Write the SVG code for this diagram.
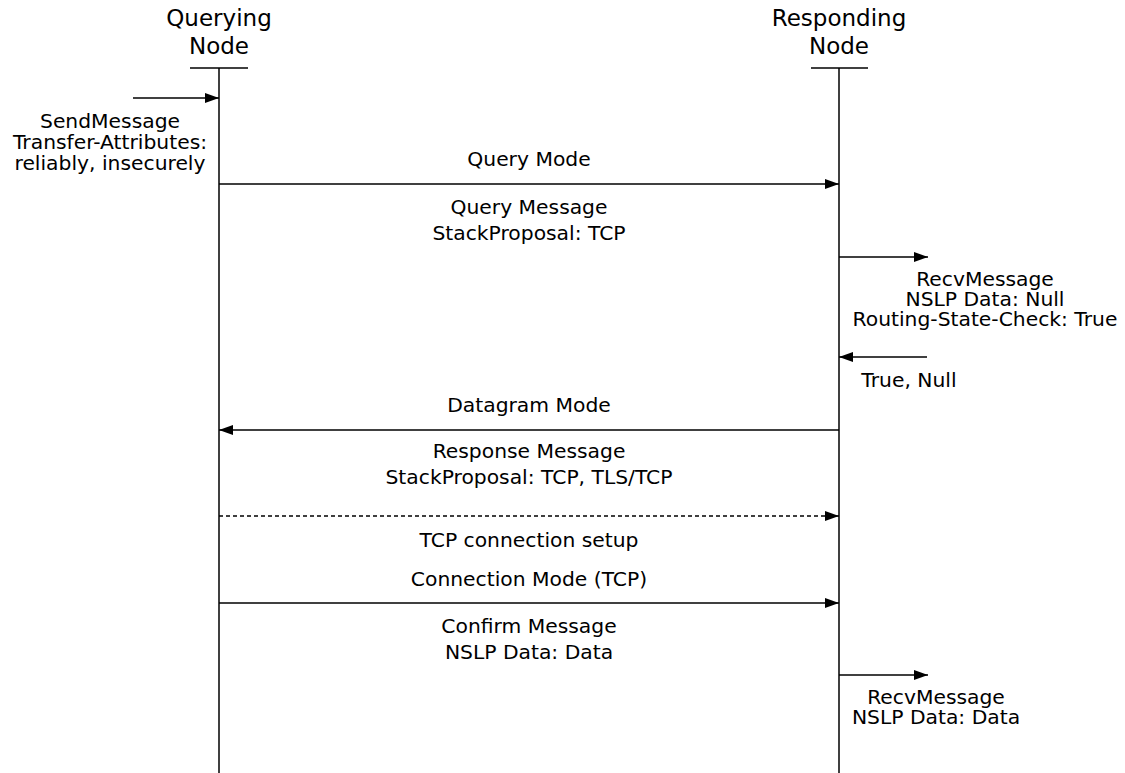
<svg xmlns="http://www.w3.org/2000/svg" width="1125" height="773" viewBox="0 0 1125 773">
<style>
text{font-family:"DejaVu Sans",sans-serif;font-size:20.3px;fill:#000;text-anchor:middle}
.h{font-size:23px}
.l{stroke:#000;stroke-width:1.5;fill:none}
.d{stroke-dasharray:4,3}
</style>
<defs>
<marker id="a" viewBox="0 0 14 10" refX="14" refY="5" markerWidth="14" markerHeight="10" markerUnits="userSpaceOnUse" orient="auto">
<path d="M0,0L14,5L0,10z" fill="#000"/>
</marker>
</defs>
<rect width="1125" height="773" fill="#fff"/>
<g id="querying">
<text class="h" x="219" y="26">Querying</text>
<text class="h" x="219" y="54">Node</text>
<line class="l" x1="190" y1="68" x2="248" y2="68"/>
<line class="l" x1="219" y1="68" x2="219" y2="773"/>
</g>
<g id="responding">
<text class="h" x="839" y="26">Responding</text>
<text class="h" x="839" y="54">Node</text>
<line class="l" x1="811" y1="68" x2="868" y2="68"/>
<line class="l" x1="839" y1="68" x2="839" y2="773"/>
</g>
<g id="connectors">
<line class="l" x1="133" y1="98" x2="219" y2="98" marker-end="url(#a)"/>
<line class="l" x1="219" y1="184" x2="839" y2="184" marker-end="url(#a)"/>
<line class="l" x1="839" y1="257" x2="928" y2="257" marker-end="url(#a)"/>
<line class="l" x1="927" y1="357" x2="839" y2="357" marker-end="url(#a)"/>
<line class="l" x1="839" y1="430" x2="219" y2="430" marker-end="url(#a)"/>
<line class="l d" x1="219" y1="516" x2="839" y2="516" marker-end="url(#a)"/>
<line class="l" x1="219" y1="603" x2="839" y2="603" marker-end="url(#a)"/>
<line class="l" x1="839" y1="675" x2="928" y2="675" marker-end="url(#a)"/>
</g>
<g id="labels">
<text x="110" y="128">SendMessage</text>
<text x="110" y="149">Transfer-Attributes:</text>
<text x="110" y="170">reliably, insecurely</text>
<text x="529" y="166">Query Mode</text>
<text x="529" y="214">Query Message</text>
<text x="529" y="240">StackProposal: TCP</text>
<text x="985" y="286">RecvMessage</text>
<text x="985" y="306">NSLP Data: Null</text>
<text x="985" y="326">Routing-State-Check: True</text>
<text x="909" y="387">True, Null</text>
<text x="529" y="412">Datagram Mode</text>
<text x="529" y="458">Response Message</text>
<text x="529" y="484">StackProposal: TCP, TLS/TCP</text>
<text x="529" y="547">TCP connection setup</text>
<text x="529" y="586">Connection Mode (TCP)</text>
<text x="529" y="633">Confirm Message</text>
<text x="529" y="659">NSLP Data: Data</text>
<text x="936" y="704">RecvMessage</text>
<text x="936" y="724">NSLP Data: Data</text>
</g>
</svg>
